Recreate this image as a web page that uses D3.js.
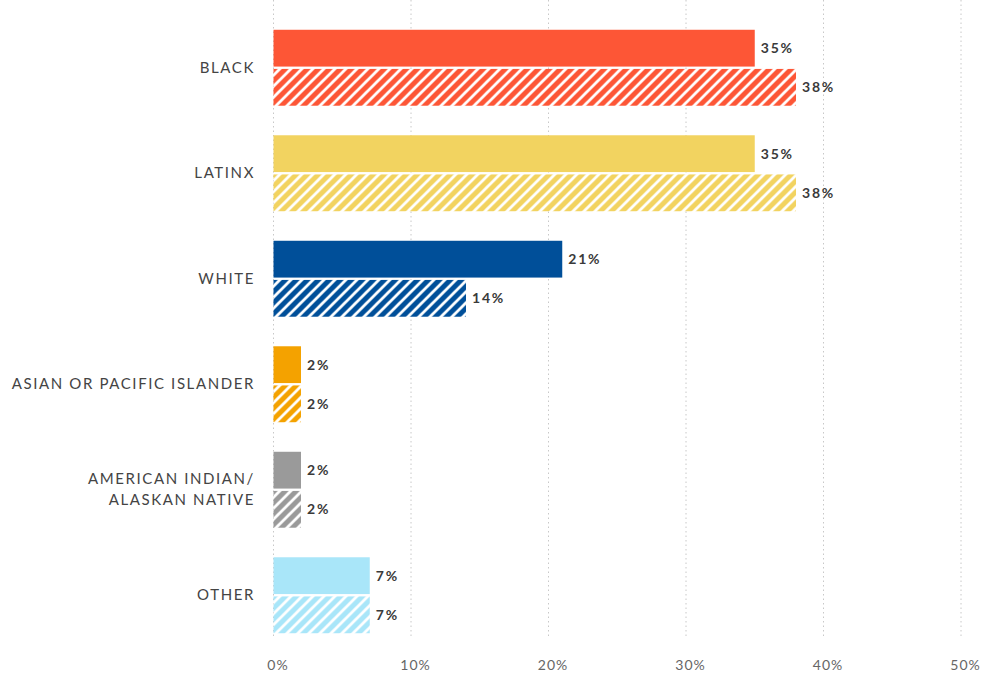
<!DOCTYPE html>
<html lang="en">
	<head>
		<meta charset="utf-8">
		<title>Share by race/ethnicity</title>
		<script src="https://d3js.org/d3.v7.min.js"></script>
		<style type="text/css">
			body {
				margin: 0;
				background: #fff;
			}
			.cat {
				font-family: Lato, "Open Sans", sans-serif;
				font-size: 15px;
				fill: #444;
				letter-spacing: 1.6px;
			}
			.val {
				font-family: Lato, "Open Sans", sans-serif;
				font-size: 14px;
				font-weight: bold;
				fill: #3a3a3a;
				letter-spacing: 1.8px;
			}
			.xaxis text {
				font-family: Lato, "Open Sans", sans-serif;
				font-size: 14px;
				fill: #666;
				letter-spacing: 1px;
			}
		</style>
	</head>
	<body>
		<script type="text/javascript">

			//Data
			var categories = ["BLACK", "LATINX", "WHITE", "ASIAN OR PACIFIC ISLANDER", "AMERICAN INDIAN/\nALASKAN NATIVE", "OTHER"];
			var solidValues = [35, 35, 21, 2, 2, 7];
			var hatchedValues = [38, 38, 14, 2, 2, 7];
			var colors = ["#fd5636", "#f2d360", "#004f99", "#f4a200", "#9a9a9a", "#a9e6f9"];
			var tickValues = [0, 10, 20, 30, 40, 50];

			//Width and height
			var w = 984;
			var h = 679;

			var svg = d3.select("body")
						.append("svg")
						.attr("width", w)
						.attr("height", h);

			//Scales
			var xScale = d3.scaleLinear()
					.domain([0, 50])
					.range([273.5, 961]);

			var yScale = d3.scaleBand()
					.domain(categories)
					.range([15, 648])
					.paddingInner(0.28)
					.paddingOuter(0.14);

			var subScale = d3.scaleBand()
					.domain(["solid", "hatched"])
					.range([0, yScale.bandwidth()])
					.paddingInner(0.06);

			//Hatch patterns, one per colour
			var defs = svg.append("defs");
			colors.forEach(function(c, i) {
				var p = defs.append("pattern")
					.attr("id", "hatch" + i)
					.attr("patternUnits", "userSpaceOnUse")
					.attr("width", 11)
					.attr("height", 11);
				p.append("rect")
					.attr("width", 11)
					.attr("height", 11)
					.attr("fill", c);
				p.append("path")
					.attr("d", "M-2,2 L2,-2 M0,11 L11,0 M9,13 L13,9")
					.attr("stroke", "#fff")
					.attr("stroke-width", 2.8);
			});

			//Gridlines
			svg.selectAll("line.grid")
				.data(tickValues)
				.enter()
				.append("line")
				.attr("class", "grid")
				.attr("x1", function(d) { return xScale(d); })
				.attr("x2", function(d) { return xScale(d); })
				.attr("y1", 0)
				.attr("y2", 638)
				.attr("stroke", "#c8c8c8")
				.attr("stroke-width", 1)
				.attr("stroke-dasharray", "1.5,3");

			//Groups
			var groups = svg.selectAll("g.group")
				.data(categories)
				.enter()
				.append("g")
				.attr("class", "group")
				.attr("transform", function(d) { return "translate(0," + yScale(d) + ")"; });

			//Solid bars
			groups.append("rect")
				.attr("x", xScale(0))
				.attr("y", subScale("solid"))
				.attr("width", function(d, i) { return xScale(solidValues[i]) - xScale(0); })
				.attr("height", subScale.bandwidth())
				.attr("fill", function(d, i) { return colors[i]; });

			//Hatched bars
			groups.append("rect")
				.attr("x", xScale(0))
				.attr("y", subScale("hatched"))
				.attr("width", function(d, i) { return xScale(hatchedValues[i]) - xScale(0); })
				.attr("height", subScale.bandwidth())
				.attr("fill", function(d, i) { return "url(#hatch" + i + ")"; });

			//Value labels
			groups.append("text")
				.attr("class", "val")
				.attr("x", function(d, i) { return xScale(solidValues[i]) + 6; })
				.attr("y", subScale("solid") + subScale.bandwidth() / 2)
				.attr("dy", "0.35em")
				.text(function(d, i) { return solidValues[i] + "%"; });

			groups.append("text")
				.attr("class", "val")
				.attr("x", function(d, i) { return xScale(hatchedValues[i]) + 6; })
				.attr("y", subScale("hatched") + subScale.bandwidth() / 2)
				.attr("dy", "0.35em")
				.text(function(d, i) { return hatchedValues[i] + "%"; });

			//Category labels
			groups.append("text")
				.attr("class", "cat")
				.attr("text-anchor", "end")
				.attr("x", 255)
				.attr("y", yScale.bandwidth() / 2)
				.each(function(d) {
					var lines = d.split("\n");
					var t = d3.select(this);
					lines.forEach(function(line, k) {
						t.append("tspan")
							.attr("x", 255)
							.attr("dy", k === 0 ? (0.35 - (lines.length - 1) * 0.7) + "em" : "1.4em")
							.text(line);
					});
				});

			//X axis
			var xAxis = d3.axisBottom()
					.scale(xScale)
					.tickValues(tickValues)
					.tickSize(0)
					.tickFormat(function(d) { return d + "%"; });

			svg.append("g")
				.attr("class", "xaxis")
				.attr("transform", "translate(4,657)")
				.call(xAxis)
				.call(function(g) { g.select(".domain").remove(); });

		</script>
	</body>
</html>
